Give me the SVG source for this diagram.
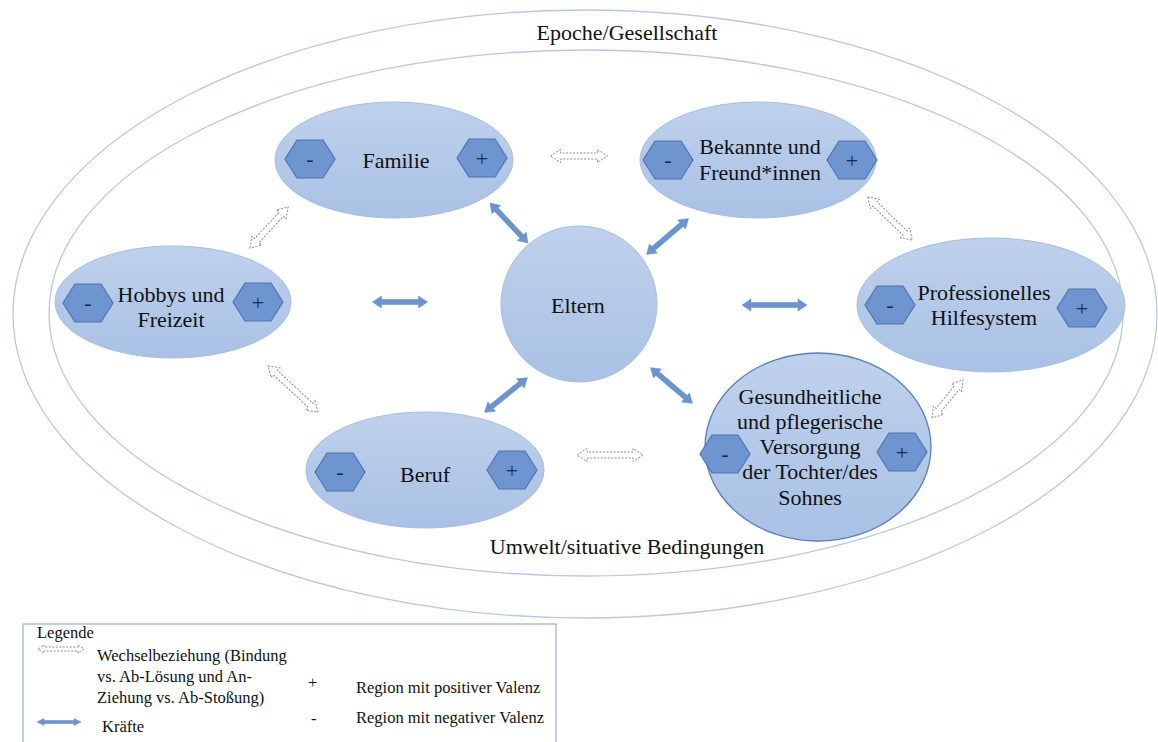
<svg xmlns="http://www.w3.org/2000/svg" xmlns:xlink="http://www.w3.org/1999/xlink" width="1158" height="742" viewBox="0 0 1158 742">
<style>
.ring{fill:none;stroke:#b9c8e2;stroke-width:1.3}
.node{fill:url(#g);stroke:#a6bde1;stroke-width:1}
.node2{fill:url(#g);stroke:#5b7fb5;stroke-width:1.3}
.hex{fill:#6e95d0;stroke:#4d74b0;stroke-width:1.2}
text{font-family:'Liberation Serif','DejaVu Serif',serif}
.t{font-size:22px;fill:#111;text-anchor:middle}
.s{font-size:22px;fill:#1d2a40;text-anchor:middle}
.l{font-size:16.5px;fill:#111}
.force{fill:#6b93cd;stroke:#5f88c6;stroke-width:0.5}
.rel{fill:#fff;stroke:#8c8c8c;stroke-width:1;stroke-dasharray:2 1.5}
</style>
<defs>
<linearGradient id="g" x1="0" y1="0" x2="0" y2="1">
<stop offset="0" stop-color="#bfd1ec"/>
<stop offset="1" stop-color="#a9c1e5"/>
</linearGradient>
<path id="hx" d="M-25,0 L-13,-19 L13,-19 L25,0 L13,19 L-13,19 Z"/>
<path id="f55" d="M-27.5,0 L-18.5,-6 L-18.5,-2.5 L18.5,-2.5 L18.5,-6 L27.5,0 L18.5,6 L18.5,2.5 L-18.5,2.5 L-18.5,6 Z"/>
</defs>

<g id="rings">
<ellipse class="ring" cx="585" cy="314" rx="572" ry="304"/>
<ellipse class="ring" cx="586" cy="313" rx="537" ry="263"/>
<text class="t" x="627" y="40">Epoche/Gesellschaft</text>
<text class="t" x="627" y="554">Umwelt/situative Bedingungen</text>
</g>

<g id="connectors">
<use class="force" xlink:href="#f55" transform="translate(509,223) rotate(46.5)"/>
<use class="force" xlink:href="#f55" transform="translate(667.5,236.5) rotate(-40.5)"/>
<use class="force" xlink:href="#f55" transform="translate(506,395) rotate(-39)"/>
<use class="force" xlink:href="#f55" transform="translate(671.5,385.5) rotate(40.5)"/>
<use class="force" xlink:href="#f55" transform="translate(400,302)"/>
<path class="force" d="M742,305 L751,299 L751,302.5 L798,302.5 L798,299 L807,305 L798,311 L798,307.5 L751,307.5 L751,311 Z"/>

<path class="rel" transform="translate(579,156)" d="M-28.5,0 L-18.5,-6.5 L-18.5,-3 L18.5,-3 L18.5,-6.5 L28.5,0 L18.5,6.5 L18.5,3 L-18.5,3 L-18.5,6.5 Z"/>
<path class="rel" transform="translate(269,227.5) rotate(-47)" d="M-28,0 L-18,-6.5 L-18,-3 L18,-3 L18,-6.5 L28,0 L18,6.5 L18,3 L-18,3 L-18,6.5 Z"/>
<path class="rel" transform="translate(293,389) rotate(43)" d="M-34,0 L-24,-6.5 L-24,-3 L24,-3 L24,-6.5 L34,0 L24,6.5 L24,3 L-24,3 L-24,6.5 Z"/>
<path class="rel" transform="translate(610,455)" d="M-33,0 L-23,-6.5 L-23,-3 L23,-3 L23,-6.5 L33,0 L23,6.5 L23,3 L-23,3 L-23,6.5 Z"/>
<path class="rel" transform="translate(890,218.5) rotate(44)" d="M-31,0 L-21,-6.5 L-21,-3 L21,-3 L21,-6.5 L31,0 L21,6.5 L21,3 L-21,3 L-21,6.5 Z"/>
<path class="rel" transform="translate(947.5,399) rotate(-51)" d="M-24.5,0 L-14.5,-6.5 L-14.5,-3 L14.5,-3 L14.5,-6.5 L24.5,0 L14.5,6.5 L14.5,3 L-14.5,3 L-14.5,6.5 Z"/>
</g>

<g id="eltern">
<circle class="node" cx="579" cy="304" r="78"/>
<text class="t" x="578" y="313">Eltern</text>
</g>

<g id="familie">
<ellipse class="node" cx="394" cy="160" rx="119" ry="58"/>
<use class="hex" xlink:href="#hx" x="310" y="159"/>
<use class="hex" xlink:href="#hx" x="482" y="158"/>
<text class="s" x="310" y="166">-</text>
<text class="s" x="482" y="166">+</text>
<text class="t" x="396" y="168">Familie</text>
</g>

<g id="bekannte">
<ellipse class="node" cx="758" cy="160" rx="118" ry="58"/>
<use class="hex" xlink:href="#hx" x="668" y="160"/>
<use class="hex" xlink:href="#hx" x="852" y="160"/>
<text class="s" x="668" y="167">-</text>
<text class="s" x="852" y="168">+</text>
<text class="t" x="760" y="154">Bekannte und</text>
<text class="t" x="760" y="180">Freund*innen</text>
</g>

<g id="hobbys">
<ellipse class="node" cx="173" cy="302" rx="118" ry="56"/>
<use class="hex" xlink:href="#hx" x="88" y="303"/>
<use class="hex" xlink:href="#hx" x="258" y="302"/>
<text class="s" x="88" y="310">-</text>
<text class="s" x="258" y="310">+</text>
<text class="t" x="171" y="302">Hobbys und</text>
<text class="t" x="171" y="327">Freizeit</text>
</g>

<g id="professionell">
<ellipse class="node" cx="991" cy="305" rx="134" ry="67"/>
<use class="hex" xlink:href="#hx" x="890" y="305"/>
<use class="hex" xlink:href="#hx" x="1082" y="308"/>
<text class="s" x="890" y="312">-</text>
<text class="s" x="1082" y="316">+</text>
<text class="t" x="984" y="300">Professionelles</text>
<text class="t" x="984" y="325">Hilfesystem</text>
</g>

<g id="beruf">
<ellipse class="node" cx="425" cy="470" rx="119" ry="58"/>
<use class="hex" xlink:href="#hx" x="340" y="472"/>
<use class="hex" xlink:href="#hx" x="512" y="470"/>
<text class="s" x="340" y="479">-</text>
<text class="s" x="512" y="478">+</text>
<text class="t" x="425" y="482">Beruf</text>
</g>

<g id="gesundheit">
<ellipse class="node2" cx="818" cy="447" rx="113" ry="94"/>
<use class="hex" xlink:href="#hx" x="725" y="454"/>
<use class="hex" xlink:href="#hx" x="902" y="452"/>
<text class="s" x="725" y="461">-</text>
<text class="s" x="902" y="460">+</text>
<text class="t" x="810" y="404">Gesundheitliche</text>
<text class="t" x="810" y="429">und pflegerische</text>
<text class="t" x="810" y="454">Versorgung</text>
<text class="t" x="810" y="479">der Tochter/des</text>
<text class="t" x="810" y="505">Sohnes</text>
</g>

<g id="legende">
<rect x="23" y="624" width="533" height="130" fill="#fff" stroke="#9fb4d6" stroke-width="1.3"/>
<text class="l" x="37" y="638">Legende</text>
<path class="rel" transform="translate(61,649)" d="M-23,0 L-17,-4 L-17,-2 L17,-2 L17,-4 L23,0 L17,4 L17,2 L-17,2 L-17,4 Z"/>
<text class="l" x="97" y="661">Wechselbeziehung (Bindung</text>
<text class="l" x="97" y="682">vs. Ab-Lösung und An-</text>
<text class="l" x="97" y="703">Ziehung vs. Ab-Stoßung)</text>
<text class="l" x="308" y="688">+</text>
<text class="l" x="356" y="693">Region mit positiver Valenz</text>
<path class="force" d="M37,722 L44,718.5 L44,720.5 L74,720.5 L74,718.5 L81,722 L74,725.5 L74,723.5 L44,723.5 L44,725.5 Z"/>
<text class="l" x="102" y="732">Kräfte</text>
<text class="l" x="311" y="724">-</text>
<text class="l" x="356" y="723">Region mit negativer Valenz</text>
</g>
</svg>
